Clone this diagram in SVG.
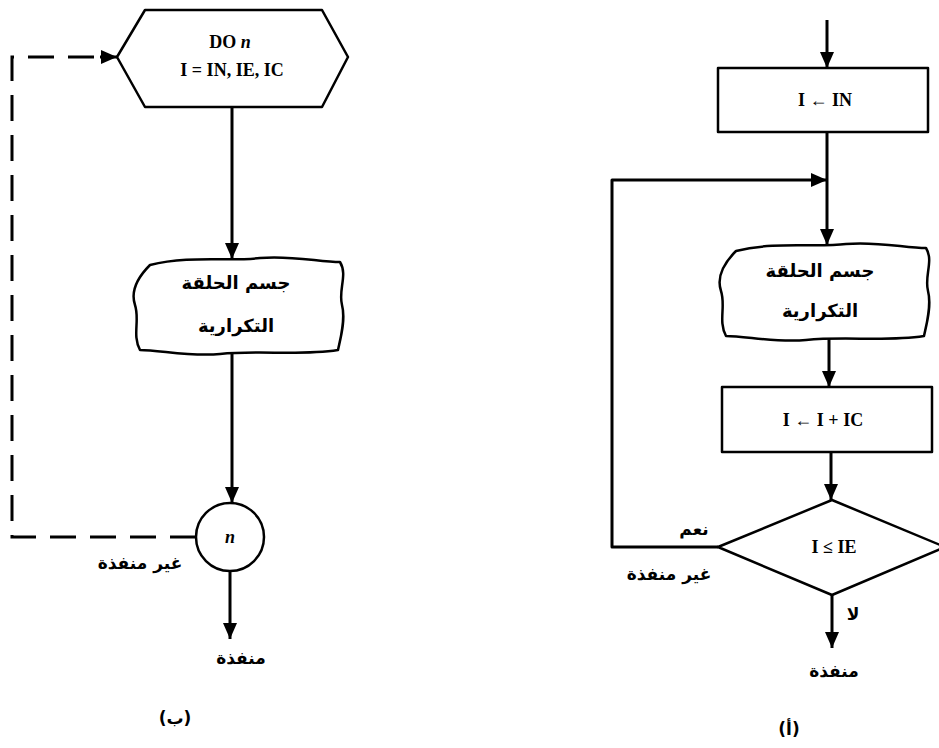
<svg xmlns="http://www.w3.org/2000/svg" width="939" height="748" viewBox="0 0 939 748">
<style>
.ln{fill:none;stroke:#000;stroke-width:3;stroke-linejoin:round}
.sh{fill:#fff;stroke:#000;stroke-width:2.5;stroke-linejoin:round}
.lat{font-family:"Liberation Serif",serif;font-weight:bold;font-size:18px;fill:#000;text-anchor:middle}
.ar{font-family:"DejaVu Sans","Noto Sans",sans-serif;font-weight:bold;font-size:17px;fill:#000;text-anchor:middle}
.big{font-size:18px}
.dash{fill:none;stroke:#000;stroke-width:3;stroke-dasharray:26 14}
</style>
<defs>
<marker id="ah" viewBox="0 0 16 14" refX="16" refY="7" markerWidth="16" markerHeight="14" markerUnits="userSpaceOnUse" orient="auto">
<path d="M0,0 L16,7 L0,14 Z" fill="#000"/>
</marker>
<path id="cloud" d="M 17 7 C 57 -3, 97 4, 127 0 C 157 -3, 187 4, 207 4 C 215 17, 205 32, 209 47 C 213 62, 207 82, 205 92 C 167 98, 127 92, 87 96 C 57 99, 27 92, 7 92 C -1 77, 7 62, 2 47 C -3 32, 7 17, 17 7 Z"/>
</defs>
<rect width="939" height="748" fill="#fff"/>

<g id="connectors">
<!-- left diagram -->
<line class="ln" x1="232" y1="107" x2="232" y2="259" marker-end="url(#ah)"/>
<line class="ln" x1="232" y1="354" x2="232" y2="503" marker-end="url(#ah)"/>
<line class="ln" x1="230" y1="571" x2="230" y2="639" marker-end="url(#ah)"/>
<polyline class="dash" points="196,537 12,537 12,57 104,57"/>
<line class="ln" x1="100" y1="57" x2="117" y2="57" marker-end="url(#ah)"/>
<!-- right diagram -->
<line class="ln" x1="827" y1="20" x2="827" y2="68" marker-end="url(#ah)"/>
<line class="ln" x1="827" y1="132" x2="827" y2="245" marker-end="url(#ah)"/>
<polyline class="ln" points="718,547 612,547 612,180 827,180" marker-end="url(#ah)"/>
<line class="ln" x1="829" y1="338" x2="829" y2="387" marker-end="url(#ah)"/>
<line class="ln" x1="831" y1="452" x2="831" y2="500" marker-end="url(#ah)"/>
<line class="ln" x1="832" y1="595" x2="832" y2="648" marker-end="url(#ah)"/>
</g>

<g id="node-do">
<polygon class="sh" points="145,10 322,10 348,57 322,107 145,107 117,57"/>
<text class="lat" x="230" y="48">DO <tspan font-style="italic">n</tspan></text>
<text class="lat" x="232" y="76">I = IN, IE, IC</text>
</g>

<g id="node-body-b">
<use href="#cloud" class="sh" transform="translate(133,258)"/>
<text class="ar big" x="236" y="289">جسم الحلقة</text>
<text class="ar big" x="236" y="332">التكرارية</text>
</g>

<g id="node-n">
<circle class="sh" cx="230" cy="537" r="34"/>
<text class="lat" x="230" y="543" font-style="italic">n</text>
</g>

<g id="labels-b">
<text class="ar" x="140" y="569" font-size="15">غير منفذة</text>
<text class="ar" x="241" y="664" font-size="15">منفذة</text>
<text class="ar" x="175" y="724" font-size="23" font-weight="normal">(ب)</text>
</g>

<g id="node-init">
<rect class="sh" x="718" y="68" width="210" height="64"/>
<text class="lat" x="825" y="106" font-size="17">I ← IN</text>
</g>

<g id="node-body-a">
<use href="#cloud" class="sh" transform="translate(719,244)"/>
<text class="ar big" x="820" y="277">جسم الحلقة</text>
<text class="ar big" x="820" y="317">التكرارية</text>
</g>

<g id="node-incr">
<rect class="sh" x="722" y="387" width="210" height="65"/>
<text class="lat" x="823" y="426" font-size="17">I ← I + IC</text>
</g>

<g id="node-cond">
<polygon class="sh" points="832,500 945,547 832,595 718,547"/>
<text class="lat" x="834" y="553">I ≤ IE</text>
</g>

<g id="labels-a">
<text class="ar" x="694" y="535" font-size="15">نعم</text>
<text class="ar" x="669" y="580" font-size="15">غير منفذة</text>
<text class="ar" x="853" y="620" font-size="15">لا</text>
<text class="ar" x="834" y="677" font-size="15">منفذة</text>
<text class="ar" x="789" y="735" font-size="24" font-weight="normal" letter-spacing="3">(أ)</text>
</g>
</svg>
